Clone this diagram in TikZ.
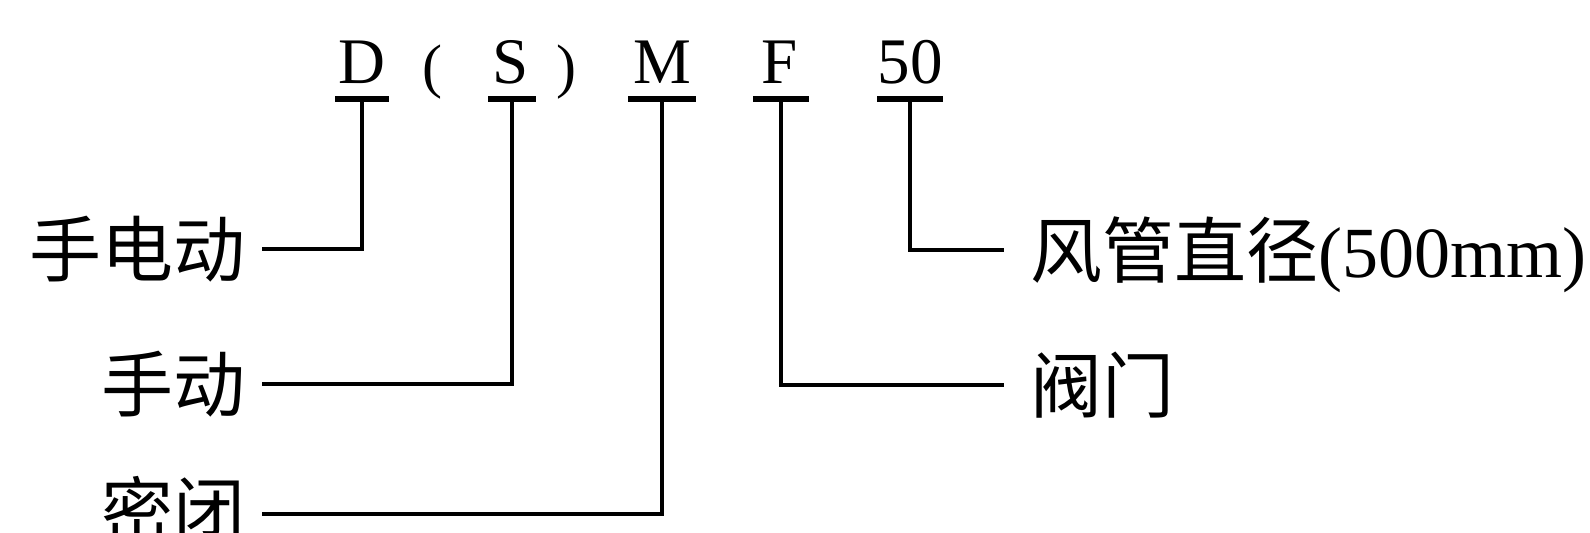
\documentclass[tikz,border=0pt]{standalone}
\usepackage{fontspec}
\setmainfont{Liberation Serif}
\newfontfamily\cjk{Noto Sans CJK SC}

\tikzset{
  code/.style={inner sep=0pt, font=\fontsize{32.5}{36}\selectfont},
  paren/.style={inner sep=0pt, font=\fontsize{30}{34}\selectfont},
  lab/.style={inner xsep=8pt, inner ysep=0pt, text height=30pt, text depth=2.6pt, font=\fontsize{36}{40}\selectfont\cjk},
  labr/.style={lab, inner xsep=13pt},
  bar/.style={line width=2.8pt},
  lead/.style={line width=2pt},
}

\begin{document}
\begin{tikzpicture}[x=0.5pt,y=0.5pt,yscale=-1,xscale=1]
\useasboundingbox (0,0) rectangle (1590,533);

% Text Node
\node[code, anchor=base] (D) at (362,84) {D};
% Text Node
\node[paren] (lpar) at (432,72) {(};
% Text Node
\node[code, anchor=base] (S) at (511,84) {S};
% Text Node
\node[paren] (rpar) at (566,72) {)};
% Text Node
\node[code, anchor=base] (M) at (662,84) {M};
% Text Node
\node[code, anchor=base] (F) at (780,84) {F};
% Text Node
\node[code, anchor=base] (d50) at (910,84) {50};

%Straight Lines [bars under the code letters]
\coordinate (tD) at (362,99);
\coordinate (tS) at (512,99);
\coordinate (tM) at (662,99);
\coordinate (tF) at (781,99);
\coordinate (t50) at (910,99);
\draw[bar] (tD) +(-27,0) -- +(27,0);
\draw[bar] (tS) +(-24,0) -- +(24,0);
\draw[bar] (tM) +(-34,0) -- +(34,0);
\draw[bar] (tF) +(-28,0) -- +(28,0);
\draw[bar] (t50) +(-33,0) -- +(33,0);

% Text Node
\node[lab, anchor=east] (sdd) at (262,249) {手电动};
% Text Node
\node[lab, anchor=east] (sd) at (262,384) {手动};
% Text Node
\node[lab, anchor=east, text depth=6pt] (mb) at (262,514) {密闭};
% Text Node
\node[labr, anchor=west] (fgzj) at (1004,250) {风管直径{\rmfamily (500mm)}};
% Text Node
\node[labr, anchor=west] (fm) at (1004,385) {阀门};

%Straight Lines [leaders]
\draw[lead] (tD) |- (sdd.east);
\draw[lead] (tS) |- (sd.east);
\draw[lead] (tM) |- (mb.east);
\draw[lead] (tF) |- (fm.west);
\draw[lead] (t50) |- (fgzj.west);

\end{tikzpicture}
\end{document}
